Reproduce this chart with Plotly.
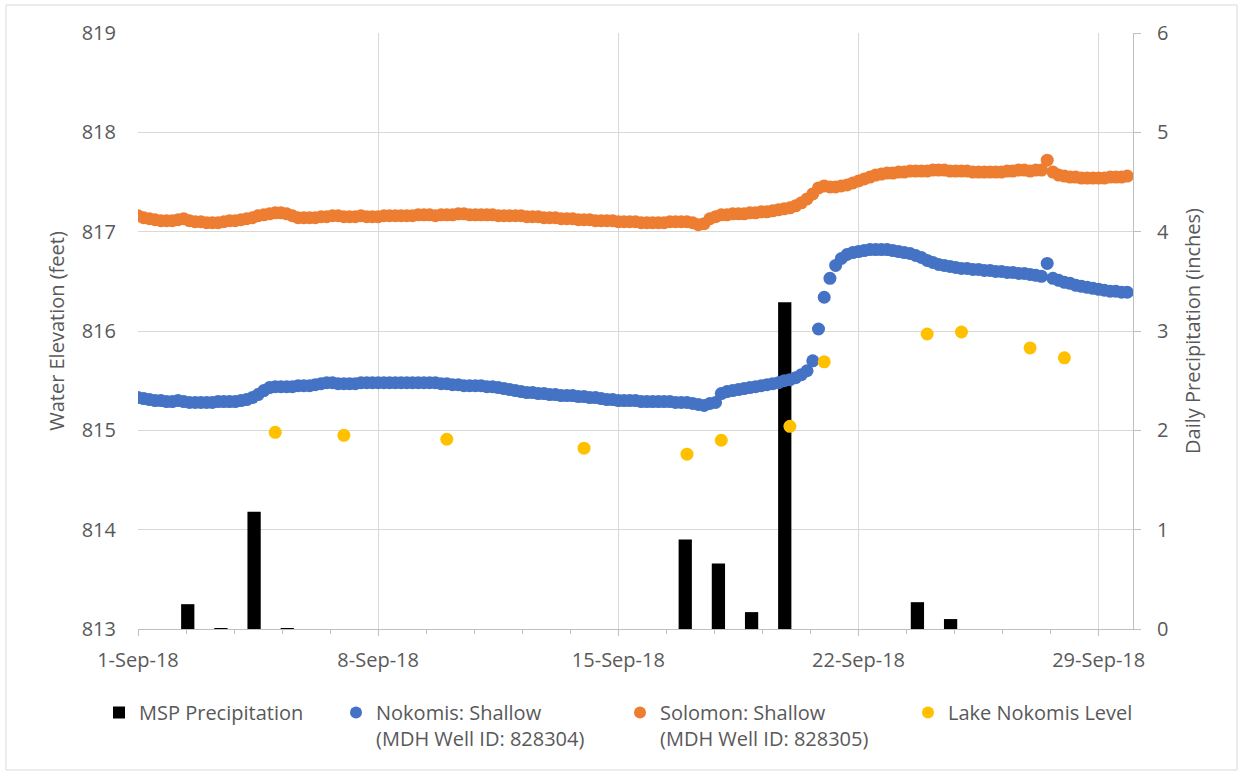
import plotly.graph_objects as go
import pandas as pd

# ---------------- data ----------------
precip_dates = [f"{d}-Sep" for d in range(1, 31)]
precip_in = [0, 0.25, 0.01, 1.18, 0.01, 0, 0, 0, 0, 0,
             0, 0, 0, 0, 0, 0, 0.90, 0.66, 0.17, 3.29,
             0, 0, 0, 0.27, 0.10, 0, 0, 0, 0, 0]

# well readings every 4 hours starting 1-Sep-2018 00:00 (6 per day)
well_times = pd.date_range("2018-09-01", periods=174, freq="4h")

nokomis_shallow = [
    815.33, 815.32, 815.31, 815.30, 815.30, 815.29,   # Sep 1
    815.29, 815.30, 815.29, 815.28, 815.28, 815.28,   # Sep 2
    815.28, 815.28, 815.29, 815.29, 815.29, 815.29,   # Sep 3
    815.30, 815.31, 815.33, 815.36, 815.40, 815.43,   # Sep 4
    815.44, 815.44, 815.44, 815.44, 815.45, 815.45,   # Sep 5
    815.45, 815.46, 815.47, 815.48, 815.48, 815.47,   # Sep 6
    815.47, 815.47, 815.47, 815.48, 815.48, 815.48,   # Sep 7
    815.48, 815.48, 815.48, 815.48, 815.48, 815.48,   # Sep 8
    815.48, 815.48, 815.48, 815.48, 815.48, 815.47,   # Sep 9
    815.47, 815.46, 815.46, 815.45, 815.45, 815.45,   # Sep 10
    815.45, 815.44, 815.44, 815.43, 815.42, 815.41,   # Sep 11
    815.40, 815.39, 815.38, 815.38, 815.37, 815.37,   # Sep 12
    815.36, 815.36, 815.35, 815.35, 815.35, 815.34,   # Sep 13
    815.34, 815.33, 815.33, 815.32, 815.31, 815.31,   # Sep 14
    815.30, 815.30, 815.30, 815.30, 815.29, 815.29,   # Sep 15
    815.29, 815.29, 815.29, 815.29, 815.28, 815.28,   # Sep 16
    815.28, 815.27, 815.26, 815.25, 815.27, 815.28,   # Sep 17
    815.37, 815.39, 815.40, 815.41, 815.42, 815.43,   # Sep 18
    815.44, 815.45, 815.46, 815.47, 815.48, 815.50,   # Sep 19
    815.51, 815.53, 815.56, 815.60, 815.70, 816.02,   # Sep 20
    816.34, 816.53, 816.66, 816.73, 816.77, 816.79,   # Sep 21
    816.80, 816.81, 816.82, 816.82, 816.82, 816.82,   # Sep 22
    816.81, 816.80, 816.79, 816.78, 816.76, 816.74,   # Sep 23
    816.71, 816.69, 816.67, 816.66, 816.65, 816.64,   # Sep 24
    816.63, 816.63, 816.62, 816.62, 816.61, 816.61,   # Sep 25
    816.60, 816.60, 816.59, 816.59, 816.58, 816.58,   # Sep 26
    816.57, 816.56, 816.55, 816.68, 816.53, 816.51,   # Sep 27
    816.49, 816.48, 816.46, 816.45, 816.44, 816.43,   # Sep 28
    816.42, 816.41, 816.40, 816.40, 816.39, 816.39,   # Sep 29
]

solomon_shallow = [
    817.16, 817.14, 817.13, 817.12, 817.11, 817.11,   # Sep 1
    817.11, 817.12, 817.13, 817.11, 817.10, 817.10,   # Sep 2
    817.09, 817.09, 817.09, 817.10, 817.11, 817.11,   # Sep 3
    817.12, 817.13, 817.14, 817.16, 817.17, 817.18,   # Sep 4
    817.19, 817.19, 817.18, 817.16, 817.14, 817.14,   # Sep 5
    817.14, 817.14, 817.15, 817.15, 817.16, 817.16,   # Sep 6
    817.15, 817.15, 817.15, 817.16, 817.15, 817.15,   # Sep 7
    817.15, 817.16, 817.16, 817.16, 817.16, 817.16,   # Sep 8
    817.16, 817.17, 817.17, 817.17, 817.16, 817.17,   # Sep 9
    817.17, 817.17, 817.18, 817.18, 817.17, 817.17,   # Sep 10
    817.17, 817.17, 817.17, 817.16, 817.16, 817.16,   # Sep 11
    817.16, 817.16, 817.15, 817.15, 817.15, 817.14,   # Sep 12
    817.14, 817.14, 817.13, 817.13, 817.13, 817.12,   # Sep 13
    817.12, 817.12, 817.11, 817.11, 817.11, 817.11,   # Sep 14
    817.10, 817.10, 817.10, 817.10, 817.09, 817.09,   # Sep 15
    817.09, 817.09, 817.09, 817.10, 817.10, 817.10,   # Sep 16
    817.10, 817.09, 817.07, 817.08, 817.13, 817.15,   # Sep 17
    817.17, 817.17, 817.18, 817.18, 817.18, 817.19,   # Sep 18
    817.19, 817.20, 817.20, 817.21, 817.22, 817.23,   # Sep 19
    817.24, 817.26, 817.29, 817.33, 817.38, 817.44,   # Sep 20
    817.46, 817.45, 817.45, 817.46, 817.47, 817.49,   # Sep 21
    817.51, 817.53, 817.55, 817.57, 817.58, 817.59,   # Sep 22
    817.59, 817.60, 817.60, 817.61, 817.61, 817.61,   # Sep 23
    817.61, 817.62, 817.62, 817.62, 817.61, 817.61,   # Sep 24
    817.61, 817.61, 817.60, 817.60, 817.60, 817.60,   # Sep 25
    817.60, 817.60, 817.61, 817.61, 817.62, 817.62,   # Sep 26
    817.61, 817.62, 817.62, 817.72, 817.60, 817.57,   # Sep 27
    817.56, 817.55, 817.55, 817.54, 817.54, 817.54,   # Sep 28
    817.54, 817.54, 817.55, 817.55, 817.55, 817.56,   # Sep 29
]

lake_dates = ["2018-09-05", "2018-09-07", "2018-09-10", "2018-09-14",
              "2018-09-17", "2018-09-18", "2018-09-20", "2018-09-21",
              "2018-09-24", "2018-09-25", "2018-09-27", "2018-09-28"]
lake_level = [814.98, 814.95, 814.91, 814.82, 814.76, 814.90,
              815.04, 815.69, 815.97, 815.99, 815.83, 815.73]

x_ticks = ["2018-09-01", "2018-09-08", "2018-09-15", "2018-09-22", "2018-09-29"]

# ---------------- style ----------------
FONT = "Open Sans"
TXT = "#595959"
GRID = "#D9D9D9"
AXL = "#BFBFBF"
DAY_MS = 86400000

fig = go.Figure()

fig.add_trace(go.Bar(
    x=precip_dates, y=precip_in, name="MSP Precipitation",
    marker=dict(color="black", line=dict(width=0)), width=0.4,
    xaxis="x", yaxis="y", legend="legend"))

fig.add_trace(go.Scatter(
    x=well_times, y=nokomis_shallow, mode="markers",
    name="Nokomis: Shallow<br>(MDH Well ID: 828304)",
    marker=dict(color="#4472C4", size=13, line=dict(width=0)),
    xaxis="x2", yaxis="y2", legend="legend2"))

fig.add_trace(go.Scatter(
    x=well_times, y=solomon_shallow, mode="markers",
    name="Solomon: Shallow<br>(MDH Well ID: 828305)",
    marker=dict(color="#ED7D31", size=13, line=dict(width=0)),
    xaxis="x2", yaxis="y2", legend="legend3"))

fig.add_trace(go.Scatter(
    x=lake_dates, y=lake_level, mode="markers",
    name="Lake Nokomis Level",
    marker=dict(color="#FFC000", size=13, line=dict(width=0)),
    xaxis="x2", yaxis="y2", legend="legend4"))

tickfont = dict(family=FONT, size=20, color=TXT)
legfont = dict(family=FONT, size=20, color=TXT)

L, R, T, B = 138, 107, 33, 147
W, H = 1240, 776
PW, PH = W - L - R, H - T - B


def px(xp):
    return (xp - L) / PW


def py(yp):
    return (H - B - yp) / PH


def legend_at(x_px, y_px):
    return dict(x=px(x_px), y=py(y_px), xanchor="left", yanchor="top",
                orientation="h", font=legfont, bgcolor="rgba(0,0,0,0)",
                valign="top", itemsizing="constant", tracegroupgap=0)


fig.update_layout(
    width=W, height=H,
    margin=dict(l=L, r=R, t=T, b=B),
    paper_bgcolor="white", plot_bgcolor="white",
    font=dict(family=FONT, color=TXT),
    barmode="overlay",
    showlegend=True,
    legend=legend_at(99, 693),
    legend2=legend_at(336, 693),
    legend3=legend_at(620, 693),
    legend4=legend_at(908, 693),
    xaxis=dict(type="category", range=[-0.5, 29.5], visible=False,
               anchor="y", domain=[0, 1], fixedrange=True),
    yaxis=dict(range=[0, 6], dtick=1, side="right", anchor="x",
               showgrid=True, gridcolor=GRID, gridwidth=1, zeroline=False,
               showline=True, linecolor=AXL, linewidth=1,
               ticks="outside", ticklen=7, tickcolor=AXL,
               tickfont=tickfont, ticklabelstandoff=12,
               title=dict(text="Daily Precipitation (inches)",
                          font=tickfont, standoff=17)),
    xaxis2=dict(type="date", overlaying="x", side="bottom", anchor="y2",
                range=["2018-09-01", "2018-09-30"],
                tickvals=x_ticks, tickformat="%-d-%b-%y",
                showgrid=True, gridcolor=GRID, gridwidth=1, zeroline=False,
                showline=True, linecolor=AXL, linewidth=1,
                ticks="outside", ticklen=6, tickcolor=AXL,
                tickfont=tickfont, ticklabelstandoff=7,
                minor=dict(tick0="2018-09-01", dtick=1.4 * DAY_MS,
                           ticks="outside", ticklen=4, tickcolor=AXL,
                           showgrid=False)),
    yaxis2=dict(range=[813, 819], dtick=1, overlaying="y", side="left",
                anchor="x2", showgrid=False, zeroline=False, showline=False,
                ticks="", tickfont=tickfont, ticklabelstandoff=21,
                title=dict(text="Water Elevation (feet)", font=tickfont,
                           standoff=11)),
    shapes=[dict(type="rect", xref="paper", yref="paper",
                 x0=px(6), x1=px(1237), y0=py(770), y1=py(5),
                 line=dict(color=GRID, width=1), fillcolor="rgba(0,0,0,0)",
                 layer="below")],
)

fig.write_html("out.html",
               config={"displayModeBar": False},
               post_script="document.body.style.margin='0';"
                           "document.body.style.padding='0';")
